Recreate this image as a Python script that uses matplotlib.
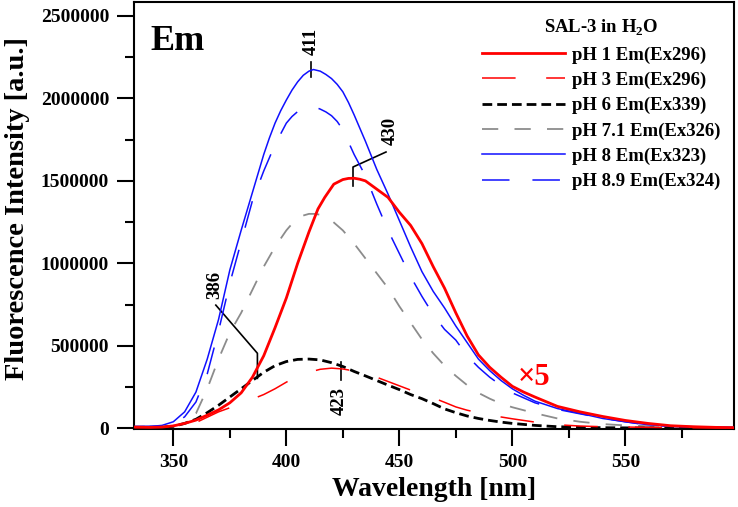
import matplotlib
matplotlib.use("Agg")
import matplotlib.pyplot as plt
from matplotlib.ticker import MultipleLocator

plt.rcParams['font.family'] = ['Liberation Serif', 'DejaVu Serif']
plt.rcParams['font.weight'] = 'bold'
plt.rcParams['mathtext.fontset'] = 'custom'
plt.rcParams['mathtext.rm'] = 'Liberation Serif:bold'
plt.rcParams['mathtext.bf'] = 'Liberation Serif:bold'

# --- data (wavelength nm, intensity a.u.) ---
wl_ph1 = [333, 340, 345, 350, 355, 360, 365, 370, 375, 380, 385, 390, 395, 400, 405, 410, 414, 417,
          421, 425, 427.5, 430, 432.5, 435, 440, 445, 450, 455, 460, 465, 470, 475, 480, 485, 490,
          495, 500, 505, 510, 520, 530, 540, 550, 560, 570, 580, 590, 600]
em_ph1 = [8000, 6000, 8000, 15000, 30000, 50000, 80000, 112000, 155000, 215000, 310000, 440000,
          610000, 790000, 1000000, 1190000, 1330000, 1400000, 1480000, 1508000, 1515000, 1516000,
          1510000, 1500000, 1450000, 1400000, 1310000, 1230000, 1120000, 980000, 850000, 700000,
          560000, 445000, 370000, 310000, 255000, 220000, 190000, 133000, 100000, 72000, 48000,
          30000, 16000, 10000, 6000, 4000]

wl_ph3 = [333, 345, 350, 360, 370, 380, 390, 395, 400, 405, 410, 415, 420, 425, 430, 435, 440, 445,
          450, 455, 460, 465, 470, 475, 480, 485, 490, 500, 510, 520, 530, 540, 560, 580, 600]
em_ph3 = [5000, 8000, 12000, 35000, 100000, 150000, 205000, 240000, 280000, 315000, 340000, 358000,
          365000, 360000, 348000, 333000, 310000, 284000, 258000, 232000, 208000, 185000, 158000,
          130000, 110000, 95000, 80000, 58000, 38000, 22000, 14000, 10000, 6000, 4000, 3000]

wl_ph6 = [333, 345, 350, 355, 360, 365, 370, 375, 380, 385, 390, 395, 400, 405, 410, 415, 420, 425,
          430, 435, 440, 445, 450, 455, 460, 465, 470, 475, 480, 485, 490, 495, 500, 510, 520, 530,
          540, 560, 600]
em_ph6 = [6000, 8000, 12000, 30000, 55000, 95000, 140000, 190000, 240000, 290000, 340000, 380000,
          405000, 418000, 420000, 415000, 398000, 375000, 345000, 318000, 290000, 262000, 235000,
          205000, 180000, 150000, 118000, 95000, 75000, 60000, 48000, 38000, 30000, 18000, 10000,
          6000, 4000, 2000, 1000]

wl_ph71 = [333, 345, 350, 355, 360, 365, 370, 375, 380, 385, 390, 395, 400, 402.5, 405, 407.5, 410,
           412.5, 415, 417.5, 420, 425, 430, 435, 440, 445, 450, 455, 460, 465, 470, 475, 480, 485,
           490, 495, 500, 510, 520, 530, 540, 550, 560, 580, 600]
em_ph71 = [8000, 10000, 15000, 30000, 90000, 240000, 420000, 580000, 700000, 840000, 980000, 1100000,
           1200000, 1240000, 1270000, 1290000, 1300000, 1300000, 1295000, 1280000, 1260000, 1200000,
           1120000, 1030000, 940000, 850000, 740000, 640000, 540000, 455000, 380000, 318000, 262000,
           215000, 180000, 150000, 128000, 92000, 60000, 40000, 26000, 18000, 13000, 7000, 4000]

wl_ph8 = [333, 340, 345, 350, 355, 360, 365, 370, 375, 380, 385, 390, 392.5, 395, 397.5, 400, 402.5,
          405, 407.5, 410, 412, 415, 417.5, 420, 422.5, 425, 427.5, 430, 435, 440, 445, 450, 455, 460,
          465, 470, 475, 480, 485, 490, 495, 500, 505, 510, 520, 530, 540, 550, 560, 570, 580, 590,
          600]
em_ph8 = [12000, 12000, 18000, 40000, 100000, 220000, 420000, 660000, 960000, 1200000, 1430000,
          1660000, 1760000, 1850000, 1925000, 1990000, 2050000, 2100000, 2140000, 2165000, 2175000,
          2165000, 2145000, 2120000, 2085000, 2040000, 1975000, 1900000, 1740000, 1570000, 1420000,
          1260000, 1100000, 950000, 830000, 730000, 620000, 520000, 420000, 350000, 290000, 240000,
          200000, 165000, 120000, 91000, 60000, 40000, 22000, 14000, 10000, 7000, 5000]

wl_ph89 = [333, 345, 350, 355, 360, 365, 370, 375, 380, 385, 390, 395, 400, 402.5, 405, 407.5, 410,
           412.5, 415, 417.5, 420, 422.5, 425, 430, 435, 440, 445, 450, 455, 460, 465, 470, 475, 480,
           485, 490, 495, 500, 510, 520, 530, 540, 550, 560, 570, 580, 590, 600]
em_ph89 = [10000, 12000, 25000, 70000, 160000, 330000, 590000, 880000, 1130000, 1380000, 1560000,
           1720000, 1850000, 1890000, 1920000, 1940000, 1950000, 1948000, 1935000, 1918000, 1895000,
           1860000, 1810000, 1660000, 1530000, 1360000, 1200000, 1060000, 920000, 800000, 690000,
           600000, 535000, 440000, 370000, 310000, 260000, 215000, 155000, 115000, 88000, 62000,
           40000, 20000, 12000, 9000, 6000, 4000]

labels = ['pH 1 Em(Ex296)', 'pH 3 Em(Ex296)', 'pH 6 Em(Ex339)',
          'pH 7.1 Em(Ex326)', 'pH 8 Em(Ex323)', 'pH 8.9 Em(Ex324)']

fig = plt.figure(figsize=(7.38, 5.07), dpi=100)
ax = fig.add_axes([0.1816, 0.1538, 0.8130, 0.8422])

ax.plot(wl_ph1, em_ph1, color='#ff0000', lw=2.0, label=labels[0], zorder=5)
ax.plot(wl_ph3, em_ph3, color='#ff0000', lw=1.1, dashes=(22, 20), label=labels[1], zorder=4)
ax.plot(wl_ph6, em_ph6, color='black', lw=2.0, dashes=(3.5, 1.8), label=labels[2], zorder=3)
ax.plot(wl_ph71, em_ph71, color='#8c8c8c', lw=1.3, dashes=(9, 9), label=labels[3], zorder=2)
ax.plot(wl_ph8, em_ph8, color='#1010ff', lw=1.1, label=labels[4], zorder=3)
ax.plot(wl_ph89, em_ph89, color='#1010ff', lw=1.1, dashes=(18, 15), label=labels[5], zorder=3)

# peak markers with leader lines
lk = dict(color='black', lw=1.2)
ax.plot([411, 411], [2129000, 2220000], **lk)
ax.text(411, 2347000, '411', rotation=90, ha='center', va='center', fontsize=13.5)

ax.plot([429.5, 429.5, 444.1], [1469000, 1584000, 1675000], **lk)
ax.text(446.2, 1800000, '430', rotation=90, ha='center', va='center', fontsize=13.5)

ax.plot([387.2, 387.2, 368.8], [303000, 455000, 747000], **lk)
ax.text(368.5, 869000, '386', rotation=90, ha='center', va='center', fontsize=13.5)

ax.plot([424.1, 424.1], [293000, 404000], **lk)
ax.text(423.3, 168000, '423', rotation=90, ha='center', va='center', fontsize=13.5)

ax.text(509.5, 310000, '\u00d75', color='#ff0000', fontsize=22, ha='center', va='center')
ax.text(0.028, 0.888, 'Em', transform=ax.transAxes, fontsize=26, ha='left', va='baseline')

ax.set_xlim(332.6, 598.1)
ax.set_ylim(-4000, 2584000)
ax.xaxis.set_major_locator(MultipleLocator(50))
ax.xaxis.set_minor_locator(MultipleLocator(25))
ax.yaxis.set_major_locator(MultipleLocator(500000))
ax.yaxis.set_minor_locator(MultipleLocator(250000))
ax.ticklabel_format(style='plain', axis='y', useOffset=False)
ax.tick_params(which='major', direction='out', length=12, width=1.5, labelsize=14, pad=6)
ax.tick_params(which='minor', direction='out', length=6.5, width=1.5)
ax.tick_params(top=False, right=False, which='both')
for s in ax.spines.values():
    s.set_linewidth(1.5)

ax.set_xlabel('Wavelength [nm]', fontsize=20, fontweight='bold', labelpad=4)
ax.set_ylabel('Fluorescence Intensity [a.u.]', fontsize=20.5, fontweight='bold')
ax.yaxis.set_label_coords(-0.174, 0.517)

leg = ax.legend(loc='upper left', bbox_to_anchor=(0.5753, 0.9695), frameon=False,
                title='SAL-3 in H$_{\\mathbf{2}}$O', fontsize=13.5, title_fontsize=13.5,
                handlelength=4.4, handletextpad=0.4, labelspacing=0.43,
                borderpad=0.15, borderaxespad=0)
leg.get_title().set_fontweight('bold')

fig.savefig('out.png', dpi=100)
